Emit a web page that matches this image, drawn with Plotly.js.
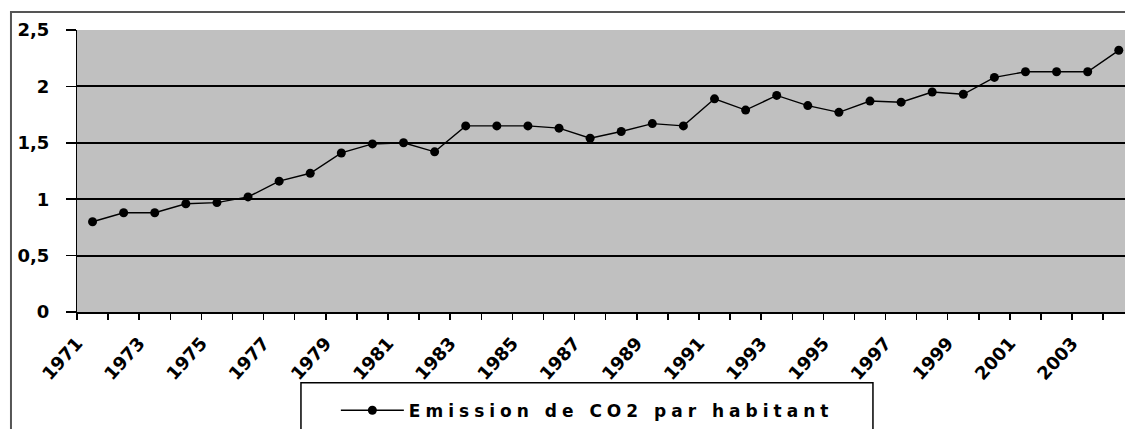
<!DOCTYPE html>
<html>
<head>
<meta charset="utf-8">
<script src="https://cdn.plot.ly/plotly-3.0.1.min.js"></script>
<style>
  html, body { margin: 0; padding: 0; background: #fff; }
  #chart { width: 1125px; height: 429px; }
  .legendtext { letter-spacing: 5px; }
</style>
</head>
<body>
<div id="chart"></div>
<script>
// Data
const years = [1971,1972,1973,1974,1975,1976,1977,1978,1979,1980,1981,1982,1983,1984,1985,1986,1987,1988,1989,1990,1991,1992,1993,1994,1995,1996,1997,1998,1999,2000,2001,2002,2003,2004];
const co2PerCapita = [0.80,0.88,0.88,0.96,0.97,1.02,1.16,1.23,1.41,1.49,1.50,1.42,1.65,1.65,1.65,1.63,1.54,1.60,1.67,1.65,1.89,1.79,1.92,1.83,1.77,1.87,1.86,1.95,1.93,2.08,2.13,2.13,2.13,2.32];
const xTickLabels = ['1971','1973','1975','1977','1979','1981','1983','1985','1987','1989','1991','1993','1995','1997','1999','2001','2003'];
const yTickVals = [0, 0.5, 1, 1.5, 2, 2.5];
const yTickText = ['0','0,5','1','1,5','2','2,5'];
const gridVals = [0.5, 1, 1.5, 2];
const seriesName = 'Emission de CO2 par habitant';

const FONT = 'DejaVu Sans, Arial, sans-serif';

const trace = {
  x: years,
  y: co2PerCapita,
  type: 'scatter',
  mode: 'lines+markers',
  name: seriesName,
  line: { color: '#000', width: 1.4 },
  marker: { color: '#000', size: 9 },
  cliponaxis: false,
  showlegend: true
};

const layout = {
  width: 1125,
  height: 429,
  margin: { l: 77, r: 0, t: 30, b: 104 },
  paper_bgcolor: '#fff',
  plot_bgcolor: '#c0c0c0',
  showlegend: true,
  xaxis: {
    type: 'linear',
    range: [1970.5, 2004.2],
    tickmode: 'array',
    tickvals: xTickLabels.map(s => Number(s) - 0.5),
    ticktext: xTickLabels,
    tickangle: -48,
    ticks: 'outside',
    ticklen: 6,
    tickwidth: 1.5,
    tickcolor: '#000',
    ticklabelstandoff: 6,
    minor: { dtick: 1, tick0: 1970.5, ticks: 'outside', ticklen: 6, tickwidth: 1.5, tickcolor: '#000', showgrid: false },
    showgrid: false,
    zeroline: false,
    showline: true,
    linecolor: '#000',
    linewidth: 1.5,
    tickfont: { family: FONT, size: 18, color: '#000', weight: 'bold' },
    fixedrange: true
  },
  yaxis: {
    range: [0, 2.5],
    tickmode: 'array',
    tickvals: yTickVals,
    ticktext: yTickText.map(t => t + '\u00a0\u00a0'),
    ticks: 'outside',
    ticklen: 10,
    tickwidth: 1.5,
    tickcolor: '#000',
    showgrid: false,
    zeroline: false,
    showline: true,
    linecolor: '#000',
    linewidth: 1.5,
    tickfont: { family: FONT, size: 18, color: '#000', weight: 'bold' },
    fixedrange: true
  },
  yaxis2: {
    overlaying: 'y',
    anchor: 'x',
    side: 'left',
    range: [0, 2.5],
    tickmode: 'array',
    tickvals: gridVals,
    showticklabels: false,
    ticks: '',
    showgrid: true,
    gridcolor: '#000',
    gridwidth: 2,
    zeroline: false,
    showline: false,
    fixedrange: true
  },
  legend: {
    x: 0.247,
    xanchor: 'left',
    y: -0.286,
    yanchor: 'top',
    bgcolor: 'rgba(0,0,0,0)',
    borderwidth: 0,
    itemwidth: 63,
    font: { family: FONT, size: 17, color: '#000', weight: 'bold' }
  },
  shapes: [
    { type: 'rect', xref: 'paper', yref: 'paper', x0: -0.063, x1: 1.2, y0: -0.6, y1: 1.064,
      line: { color: '#555', width: 2 }, fillcolor: 'rgba(0,0,0,0)', layer: 'below' },
    { type: 'rect', xref: 'paper', yref: 'paper', x0: 0.2137, x1: 0.7595, y0: -0.6, y1: -0.2508,
      line: { color: '#000', width: 1.5 }, fillcolor: 'rgba(0,0,0,0)', layer: 'above' }
  ]
};

// Invisible helper trace so the gridline axis (y2) is rendered; it carries the same series.
const gridTrace = {
  x: years,
  y: co2PerCapita,
  yaxis: 'y2',
  type: 'scatter',
  mode: 'none',
  hoverinfo: 'skip',
  showlegend: false
};

Plotly.newPlot('chart', [gridTrace, trace], layout, { displayModeBar: false, staticPlot: true });
</script>
</body>
</html>
